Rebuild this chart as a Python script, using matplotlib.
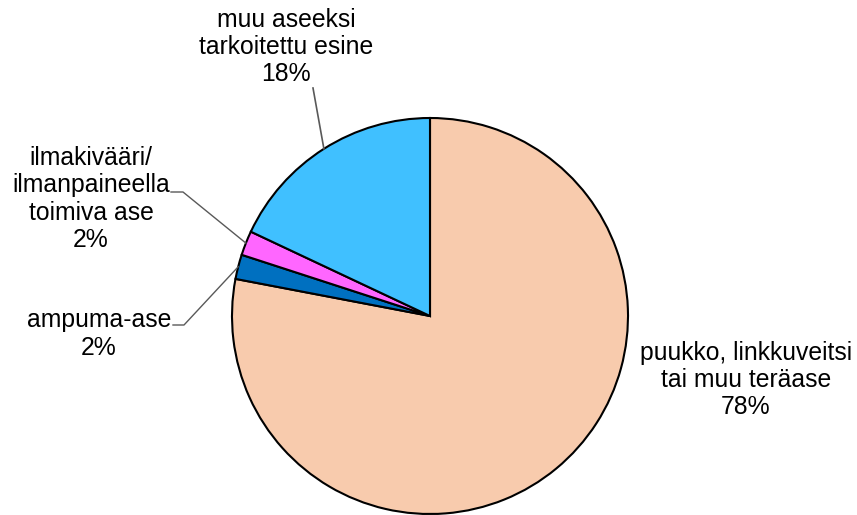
import numpy as np
import matplotlib
matplotlib.use("Agg")
import matplotlib.pyplot as plt

categories = ["puukko, linkkuveitsi\ntai muu teräase", "ampuma-ase",
              "ilmakivääri/\nilmanpaineella\ntoimiva ase", "muu aseeksi\ntarkoitettu esine"]
values = [78, 2, 2, 18]
colors = ["#F8CBAD", "#0070C0", "#FF66FF", "#40C0FF"]

plt.rcParams['font.family'] = ['Liberation Sans', 'DejaVu Sans']

W, H = 857, 515
fig = plt.figure(figsize=(W / 100, H / 100), dpi=100)
ax = fig.add_axes([0, 0, 1, 1])

cx, cy, r = 430, H - 316, 198
wedges, _ = ax.pie(values, colors=colors, startangle=90, counterclock=False,
                   center=(cx, cy), radius=r, frame=True,
                   wedgeprops=dict(edgecolor='black', linewidth=1.5))
ax.set_xlim(0, W)
ax.set_ylim(0, H)
ax.set_aspect('equal')
ax.axis('off')

# label positions (pixel coords, y from top)
label_pos = [(746, 380), (99, 334), (91, 199), (286, 47)]
fs = 17.8
total = sum(values)
for i, (cat, v) in enumerate(zip(categories, values)):
    x, y = label_pos[i]
    ax.text(x, H - y, f"{cat}\n{round(100 * v / total)}%", ha='center', va='center',
            fontsize=fs, color='black', linespacing=1.17)

# leader lines to wedge mid-angles
def anchor(i):
    start = 90 - 360 * sum(values[:i]) / total
    mid = start - 180 * values[i] / total
    a = np.deg2rad(mid)
    return cx + r * np.cos(a), cy + r * np.sin(a)

lc = '#595959'
a3 = anchor(3)
ax.plot([313, a3[0]], [H - 88, a3[1]], color=lc, lw=1.2)
a2 = anchor(2)
ax.plot([171, 183, a2[0]], [H - 192, H - 192, a2[1]], color=lc, lw=1.0)
a1 = anchor(1)
ax.plot([173, 184, a1[0]], [H - 325, H - 325, a1[1]], color=lc, lw=1.0)

fig.savefig("out.png", dpi=100)
